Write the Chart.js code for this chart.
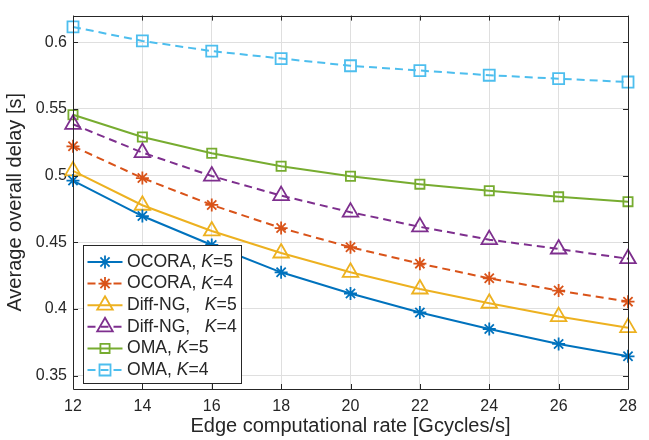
<!DOCTYPE html>
<html>
<head>
<meta charset="utf-8">
<script src="https://cdn.jsdelivr.net/npm/chart.js@4.4.0/dist/chart.umd.min.js"></script>
<style>
    html, body { margin: 0; padding: 0; background: #fff; }
</style>
</head>
<body>
<canvas id="myChart" width="649" height="440"></canvas>
<script>
// edge computational rate [Gcycles/s]
const rates = [12, 14, 16, 18, 20, 22, 24, 26, 28];
// average overall delay [s]
const ocoraK5 = [0.4963, 0.4697, 0.448, 0.4275, 0.4116, 0.3974, 0.385, 0.3738, 0.3645];
const ocoraK4 = [0.522, 0.4982, 0.478, 0.4607, 0.4463, 0.434, 0.423, 0.4138, 0.4055];
const diffK5 = [0.5036, 0.4778, 0.4585, 0.442, 0.4275, 0.415, 0.4043, 0.3943, 0.386];
const diffK4 = [0.5385, 0.5173, 0.4997, 0.485, 0.4726, 0.4616, 0.452, 0.445, 0.4377];
const omaK5 = [0.5456, 0.529, 0.5168, 0.507, 0.4995, 0.4936, 0.4887, 0.4841, 0.4805];
const omaK4 = [0.6115, 0.601, 0.5934, 0.5878, 0.5824, 0.5788, 0.5753, 0.5727, 0.5702];
const xTicks = [12, 14, 16, 18, 20, 22, 24, 26, 28];
const yTicks = [0.35, 0.4, 0.45, 0.5, 0.55, 0.6];

const axisColor = "#262626";
const fontFamily = '"Liberation Sans", Arial, Helvetica, sans-serif';
Chart.defaults.font.family = fontFamily;
Chart.defaults.color = axisColor;

function series(name, k, values, color, style, radius, dashed) {
    return {
        label: name,
        k: k,
        data: values.map((v, i) => ({ x: rates[i], y: v })),
        borderColor: color,
        backgroundColor: color,
        borderWidth: 2,
        borderDash: dashed ? [8, 5] : [],
        pointStyle: style,
        pointRadius: radius,
        pointHoverRadius: radius,
        pointBorderWidth: 1.8,
        pointBorderColor: color,
        pointBackgroundColor: "rgba(0,0,0,0)",
        tension: 0,
        clip: false,
    };
}

// inward tick marks and box round the plot, like the original figure
const framePlugin = {
    id: "frame",
    afterDatasetsDraw(chart) {
        const { ctx, chartArea: a, scales } = chart;
        const len = 5;
        ctx.save();
        ctx.strokeStyle = axisColor;
        ctx.lineWidth = 1;
        ctx.beginPath();
        ctx.rect(Math.round(a.left) + 0.5, Math.round(a.top) + 0.5,
            Math.round(a.right) - Math.round(a.left), Math.round(a.bottom) - Math.round(a.top));
        xTicks.forEach(t => {
            const px = Math.round(scales.x.getPixelForValue(t)) + 0.5;
            ctx.moveTo(px, a.bottom); ctx.lineTo(px, a.bottom - len);
            ctx.moveTo(px, a.top); ctx.lineTo(px, a.top + len);
        });
        yTicks.forEach(t => {
            const py = Math.round(scales.y.getPixelForValue(t)) + 0.5;
            ctx.moveTo(a.left, py); ctx.lineTo(a.left + len, py);
            ctx.moveTo(a.right, py); ctx.lineTo(a.right - len, py);
        });
        ctx.stroke();
        ctx.restore();
    },
};

// legend box with italic K, drawn inside the axes
const legendPlugin = {
    id: "boxLegend",
    afterDraw(chart) {
        const ctx = chart.ctx;
        const box = { x: 83.5, y: 245.5, w: 158, h: 138 };
        const rowH = 21.6;
        const fs = "17.6px ";
        ctx.save();
        ctx.fillStyle = "#fff";
        ctx.strokeStyle = axisColor;
        ctx.lineWidth = 1;
        ctx.fillRect(box.x, box.y, box.w, box.h);
        ctx.strokeRect(box.x, box.y, box.w, box.h);
        chart.data.datasets.forEach((ds, i) => {
            const cy = box.y + 16.5 + i * rowH;
            ctx.strokeStyle = ds.borderColor;
            ctx.lineWidth = ds.borderWidth;
            ctx.setLineDash(ds.borderDash);
            ctx.beginPath();
            ctx.moveTo(box.x + 4, cy);
            ctx.lineTo(box.x + 39, cy);
            ctx.stroke();
            ctx.setLineDash([]);
            ctx.fillStyle = "rgba(0,0,0,0)";
            ctx.lineWidth = ds.pointBorderWidth;
            Chart.helpers.drawPoint(ctx, {
                pointStyle: ds.pointStyle,
                radius: ds.pointRadius,
                rotation: 0,
                borderWidth: ds.pointBorderWidth,
            }, box.x + 21.5, cy);
            ctx.fillStyle = axisColor;
            ctx.textBaseline = "middle";
            let tx = box.x + 43.5;
            ctx.font = fs + fontFamily;
            ctx.fillText(ds.label, tx, cy);
            tx += ctx.measureText(ds.label).width;
            ctx.font = "italic " + fs + fontFamily;
            ctx.fillText("K", tx, cy);
            tx += ctx.measureText("K").width;
            ctx.font = fs + fontFamily;
            ctx.fillText("=" + ds.k, tx, cy);
        });
        ctx.restore();
    },
};

const myChart = new Chart(document.getElementById("myChart"), {
    type: "line",
    data: {
        datasets: [
            series("OCORA, ", 5, ocoraK5, "#0072BD", "star", 6.5, false),
            series("OCORA, ", 4, ocoraK4, "#D95319", "star", 6.5, true),
            series("Diff-NG,   ", 5, diffK5, "#EDB120", "triangle", 9, false),
            series("Diff-NG,   ", 4, diffK4, "#7E2F8E", "triangle", 9, true),
            series("OMA, ", 5, omaK5, "#77AC30", "rect", 6.5, false),
            series("OMA, ", 4, omaK4, "#4DBEEE", "rect", 7.8, true),
        ],
    },
    options: {
        responsive: false,
        animation: false,
        events: [],
        layout: { padding: { top: 8, right: 21, left: 0, bottom: 0 } },
        plugins: {
            legend: { display: false },
            tooltip: { enabled: false },
        },
        scales: {
            x: {
                type: "linear",
                min: 12,
                max: 28,
                afterBuildTicks: (scale) => { scale.ticks = xTicks.map(v => ({ value: v })); },
                afterFit: (scale) => { scale.height = 51; },
                ticks: { padding: 8, font: { size: 16 }, color: axisColor },
                grid: { color: "#dfdfdf", drawTicks: false },
                border: { display: false },
                title: {
                    display: true,
                    text: "Edge computational rate [Gcycles/s]",
                    font: { size: 20 },
                    color: axisColor,
                    padding: { top: 0, bottom: 2 },
                },
            },
            y: {
                type: "linear",
                min: 0.34,
                max: 0.62,
                afterBuildTicks: (scale) => { scale.ticks = yTicks.map(v => ({ value: v })); },
                afterFit: (scale) => { scale.width = 73; },
                ticks: {
                    padding: 6,
                    font: { size: 16 },
                    color: axisColor,
                    callback: (v) => String(Math.round(v * 100) / 100),
                },
                grid: { color: "#dfdfdf", drawTicks: false },
                border: { display: false },
                title: {
                    display: true,
                    text: "Average overall delay [s]",
                    font: { size: 20 },
                    color: axisColor,
                    padding: { top: 3, bottom: 0 },
                },
            },
        },
    },
    plugins: [framePlugin, legendPlugin],
});
</script>
</body>
</html>
